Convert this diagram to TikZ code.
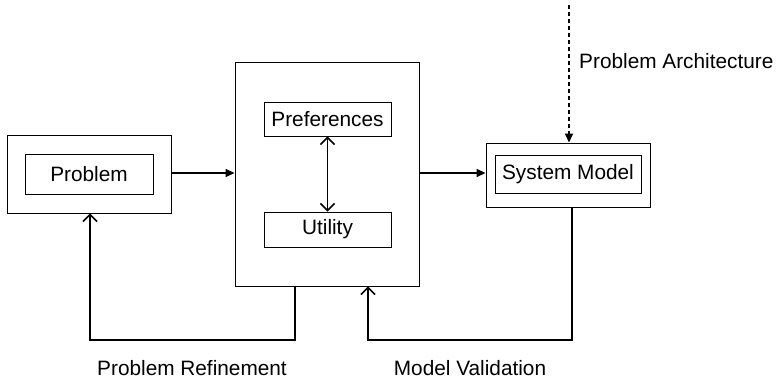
\documentclass[tikz,border=0pt]{standalone}
\usepackage{fontspec}
\setmainfont{Liberation Sans}
\usetikzlibrary{arrows.meta}
\begin{document}
\begin{tikzpicture}[x=1pt,y=-1pt,
  box/.style={draw, line width=0.9pt, inner sep=0pt, anchor=center},
  lbl/.style={font=\fontsize{20.8}{24}\selectfont, inner sep=0pt},
  flow/.style={line width=1.5pt, -{Triangle[length=9pt,width=8pt]}},
  fb/.style={line width=1.5pt, -{Straight Barb[length=7pt,width=14pt,line width=1.5pt]}}
]
\useasboundingbox (0,0) rectangle (779,380);
% Problem
\node[box, minimum width=164pt, minimum height=78pt] (pout) at (89,174) {};
\node[box, minimum width=128pt, minimum height=40pt, lbl] (pin) at (89,174) {Problem};
% Middle
\node[box, minimum width=184pt, minimum height=224pt] (mid) at (327,174) {};
\node[box, minimum width=127pt, minimum height=34pt, lbl] (pref) at (327.5,119) {Preferences};
\node[box, minimum width=127pt, minimum height=35pt, lbl] (util) at (327.5,229.5) {Utility};
% System model
\node[box, minimum width=164pt, minimum height=64pt] (sout) at (568,175) {};
\node[box, minimum width=146pt, minimum height=38pt, lbl] (sin) at (568,174) {System Model};
% top dashed source
\coordinate (top) at (569,5);
\draw[line width=1.5pt, dash pattern=on 4pt off 3pt, -{Triangle[length=9pt,width=8pt]}] (top) -- (top |- sout.north);
\node[lbl, anchor=west] (parch) at (579,61) {Problem Architecture};
% flows
\draw[flow] (pout.east |- 0,173) -- (mid.west |- 0,173);
\draw[flow] (mid.east |- 0,173) -- (sout.west |- 0,173);
% double arrow
\draw[line width=1.5pt, {Straight Barb[length=7pt,width=14pt,line width=1.5pt]}-{Straight Barb[length=7pt,width=14pt,line width=1.5pt]}] (pref.south) -- (util.north);
% feedback loops
\coordinate (l1) at (295,340);
\coordinate (l2) at (90,340);
\draw[fb] (mid.south -| l1) -- (l1) -- (l2) -- (pout.south -| l2);
\coordinate (r1) at (572,340);
\coordinate (r2) at (368,340);
\draw[fb] (sout.south -| r1) -- (r1) -- (r2) -- (mid.south -| r2);
% labels
\node[lbl] (pref2) at (192,368) {Problem Refinement};
\node[lbl] (mval) at (470,368) {Model Validation};
\end{tikzpicture}
\end{document}
